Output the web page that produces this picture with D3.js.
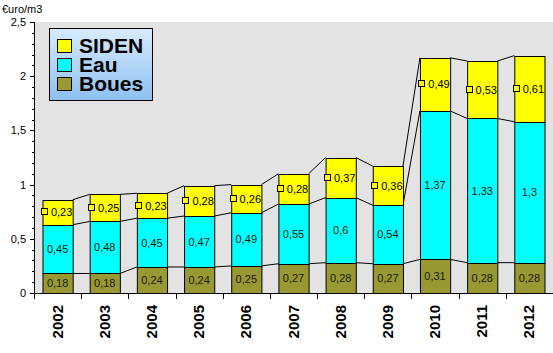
<!DOCTYPE html>
<html lang="fr">
<head>
    <meta charset="UTF-8">
    <title>Prix euro/m3</title>
    <script src="https://d3js.org/d3.v7.min.js"></script>
    <style>
        body { margin: 0; background: #fff; }
        text { font-family: "Liberation Sans", Arial, sans-serif; }
    </style>
</head>
<body>
    <svg width="553" height="353" id="svg1"></svg>
    <script>
        // data
        const years = ["2002", "2003", "2004", "2005", "2006", "2007", "2008", "2009", "2010", "2011", "2012"];
        const boues = [0.18, 0.18, 0.24, 0.24, 0.25, 0.27, 0.28, 0.27, 0.31, 0.28, 0.28];
        const eau = [0.45, 0.48, 0.45, 0.47, 0.49, 0.55, 0.6, 0.54, 1.37, 1.33, 1.3];
        const siden = [0.23, 0.25, 0.23, 0.28, 0.26, 0.28, 0.37, 0.36, 0.49, 0.53, 0.61];
        const seriesNames = ["Boues", "Eau", "SIDEN"];
        const yTicks = [0, 0.5, 1, 1.5, 2, 2.5];
        const unitLabel = "€uro/m3";

        const colors = { Boues: "#999933", Eau: "#00ffff", SIDEN: "#ffff00" };

        const svg = d3.select('#svg1');
        const plot = { left: 34, right: 553, top: 22, bottom: 293 };

        const x = d3.scaleBand()
            .domain(years)
            .range([plot.left, plot.right])
            .padding(0);

        const y = d3.scaleLinear()
            .domain([0, 2.5])
            .range([plot.bottom, plot.top]);

        const barW = x.bandwidth() * 0.64;
        const barOff = (x.bandwidth() - barW) / 2;

        const fmt = v => String(v).replace('.', ',');

        // build stacked table
        const table = years.map((yr, i) => ({ year: yr, Boues: boues[i], Eau: eau[i], SIDEN: siden[i] }));
        const stacked = d3.stack().keys(seriesNames)(table);

        // plot background
        svg.append('rect')
            .attr('x', plot.left).attr('y', plot.top)
            .attr('width', plot.right - plot.left).attr('height', plot.bottom - plot.top)
            .attr('fill', '#e3e3e3');

        // series lines
        stacked.forEach(layer => {
            for (let i = 0; i < years.length - 1; i++) {
                svg.append('line')
                    .attr('x1', x(years[i]) + barOff + barW)
                    .attr('x2', x(years[i + 1]) + barOff)
                    .attr('y1', y(layer[i][1]))
                    .attr('y2', y(layer[i + 1][1]))
                    .attr('stroke', '#000')
                    .attr('stroke-width', 1);
            }
        });

        // bars
        const layers = svg.append('g')
            .selectAll('g')
            .data(stacked)
            .enter()
            .append('g')
            .attr('fill', d => colors[d.key]);

        layers.selectAll('rect')
            .data(d => d)
            .enter()
            .append('rect')
            .attr('x', d => x(d.data.year) + barOff + 0.5)
            .attr('y', d => Math.round(y(d[1])) + 0.5)
            .attr('width', barW)
            .attr('height', d => Math.round(y(d[0])) - Math.round(y(d[1])))
            .attr('stroke', '#000')
            .attr('stroke-width', 1);

        // value labels
        stacked.forEach(layer => {
            layer.forEach(d => {
                const cx = x(d.data.year) + x.bandwidth() / 2;
                const cy = y((d[0] + d[1]) / 2);
                const v = d[1] - d[0];
                const txt = fmt(d.data[layer.key]);
                if (layer.key === 'SIDEN') {
                    const g = svg.append('g');
                    const t = g.append('text')
                        .attr('y', cy + 4)
                        .attr('font-size', 11)
                        .attr('fill', '#000')
                        .text(txt);
                    const tw = t.node().getComputedTextLength();
                    const total = 7 + 3 + tw;
                    const x0 = cx - total / 2 - 1;
                    g.append('rect')
                        .attr('x', Math.round(x0) + 0.5)
                        .attr('y', Math.round(cy - 4) + 0.5)
                        .attr('width', 6).attr('height', 6)
                        .attr('fill', colors.SIDEN)
                        .attr('stroke', '#000');
                    t.attr('x', x0 + 10);
                } else {
                    svg.append('text')
                        .attr('x', cx)
                        .attr('y', cy + 4)
                        .attr('text-anchor', 'middle')
                        .attr('font-size', 11)
                        .attr('fill', '#1a1a00')
                        .text(txt);
                }
            });
        });

        // y axis
        const yAxis = svg.append('g');
        yAxis.append('line')
            .attr('x1', plot.left + 0.5).attr('x2', plot.left + 0.5)
            .attr('y1', plot.top).attr('y2', plot.bottom)
            .attr('stroke', '#000');
        d3.range(0, 26).forEach(k => {
            const v = k / 10;
            const major = k % 5 === 0;
            yAxis.append('line')
                .attr('x1', plot.left - (major ? 4 : 2)).attr('x2', plot.left)
                .attr('y1', Math.round(y(v)) + 0.5).attr('y2', Math.round(y(v)) + 0.5)
                .attr('stroke', '#000');
        });
        yAxis.selectAll('text.ylab')
            .data(yTicks)
            .enter()
            .append('text')
            .attr('class', 'ylab')
            .attr('x', 26)
            .attr('y', d => y(d) + 4)
            .attr('text-anchor', 'end')
            .attr('font-size', 11)
            .text(d => fmt(d));

        // x axis
        const xAxis = svg.append('g');
        xAxis.append('line')
            .attr('x1', plot.left).attr('x2', plot.right)
            .attr('y1', plot.bottom + 0.5).attr('y2', plot.bottom + 0.5)
            .attr('stroke', '#000');
        years.forEach(yr => {
            const bx = Math.round(x(yr)) + 0.5;
            xAxis.append('line')
                .attr('x1', bx).attr('x2', bx)
                .attr('y1', plot.bottom).attr('y2', plot.bottom + 6)
                .attr('stroke', '#000');
            const cx = x(yr) + x.bandwidth() / 2;
            xAxis.append('text')
                .attr('transform', `translate(${cx + 5}, 305) rotate(-90)`)
                .attr('text-anchor', 'end')
                .attr('font-size', 15)
                .attr('font-weight', 'bold')
                .text(yr);
        });

        // unit label
        svg.append('text')
            .attr('x', 2).attr('y', 13)
            .attr('font-size', 11)
            .text(unitLabel);

        // legend
        const defs = svg.append('defs');
        const grad = defs.append('linearGradient')
            .attr('id', 'legGrad')
            .attr('x1', 0).attr('y1', 0).attr('x2', 0).attr('y2', 1);
        grad.append('stop').attr('offset', '0%').attr('stop-color', '#d8ebfc');
        grad.append('stop').attr('offset', '100%').attr('stop-color', '#8cc0f2');

        const legend = svg.append('g');
        legend.append('rect')
            .attr('x', 49.5).attr('y', 28.5)
            .attr('width', 103).attr('height', 72)
            .attr('fill', 'url(#legGrad)')
            .attr('stroke', '#000');
        const legendOrder = ["SIDEN", "Eau", "Boues"];
        legendOrder.forEach((name, i) => {
            const ly = 39 + i * 19;
            legend.append('rect')
                .attr('x', 57.5).attr('y', ly + 0.5)
                .attr('width', 14).attr('height', 13)
                .attr('fill', colors[name])
                .attr('stroke', '#000');
            legend.append('text')
                .attr('x', 79)
                .attr('y', ly + 14)
                .attr('font-size', 21)
                .attr('font-weight', 'bold')
                .attr('fill', '#000')
                .text(name);
        });
    </script>
</body>
</html>
